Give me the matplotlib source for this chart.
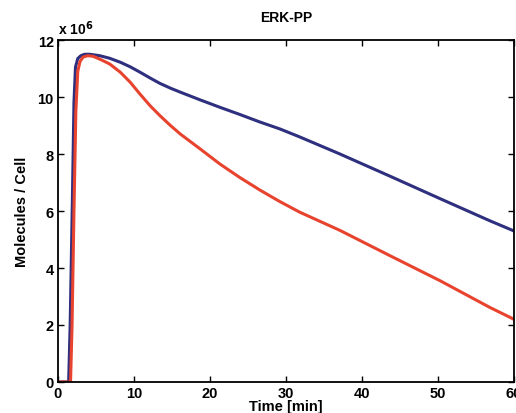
import matplotlib
matplotlib.use("Agg")
from matplotlib import pyplot as plt

# values, in units of 10^6 molecules / cell
t_blue = [0, 1.4, 1.6, 1.9, 2.1, 2.3, 2.6, 3.0, 3.5, 4.2, 5.5, 6.8, 8.2, 9.5,
          10.8, 12.1, 13.4, 14.8, 16.1, 18.7, 21.3, 23.9, 26.6, 29.2, 31.8,
          37.1, 43.7, 50.3, 56.8, 60.0]
erk_blue = [0, 0, 2.0, 6.5, 9.8, 11.05, 11.35, 11.45, 11.5, 11.5, 11.45, 11.36,
            11.22, 11.06, 10.87, 10.67, 10.48, 10.31, 10.17, 9.9, 9.64, 9.39,
            9.12, 8.88, 8.6, 8.0, 7.22, 6.43, 5.66, 5.3]

t_red = [0, 1.65, 1.85, 2.1, 2.35, 2.6, 2.9, 3.3, 3.9, 4.6, 5.5, 6.8, 8.2, 9.5,
         10.8, 12.1, 13.4, 14.8, 16.1, 18.7, 21.3, 23.9, 26.6, 29.2, 31.8,
         37.1, 43.7, 50.3, 56.8, 60.0]
erk_red = [0, 0, 2.0, 6.0, 9.5, 10.9, 11.25, 11.4, 11.45, 11.43, 11.33, 11.16,
           10.87, 10.52, 10.1, 9.7, 9.35, 9.0, 8.7, 8.18, 7.65, 7.18, 6.73,
           6.33, 5.96, 5.32, 4.43, 3.55, 2.62, 2.2]

xticks = [0, 10, 20, 30, 40, 50, 60]
yticks = [0, 2, 4, 6, 8, 10, 12]

plt.rcParams["font.family"] = ["Liberation Sans", "DejaVu Sans"]
plt.rcParams["font.weight"] = "bold"

fig = plt.figure(figsize=(5.16, 4.14), dpi=100)
ax = fig.add_axes([0.1124, 0.0749, 0.8837, 0.826])

ax.plot(t_blue, erk_blue, color="#2e2f7e", lw=2.2, solid_joinstyle="round")
ax.plot(t_red, erk_red, color="#e8432e", lw=2.2, solid_joinstyle="round")

ax.set_xlim(0, 60)
ax.set_ylim(0, 12)
ax.set_xticks(xticks)
ax.set_yticks(yticks)
ax.tick_params(direction="in", top=True, right=True, length=4, width=1,
               labelsize=10.5, pad=3)
for s in ax.spines.values():
    s.set_linewidth(1.3)

ax.set_xlabel("Time [min]", fontsize=10.5, fontweight="bold", labelpad=-1)
ax.set_ylabel("Molecules / Cell", fontsize=10.5, fontweight="bold", labelpad=6)
ax.set_title("ERK-PP", fontsize=10, fontweight="bold", pad=14)
ax.text(0.0, 1.01, r"x 10$^{6}$", transform=ax.transAxes, fontsize=10,
        fontweight="bold", ha="left", va="bottom")

fig.savefig("out.png", dpi=100)
